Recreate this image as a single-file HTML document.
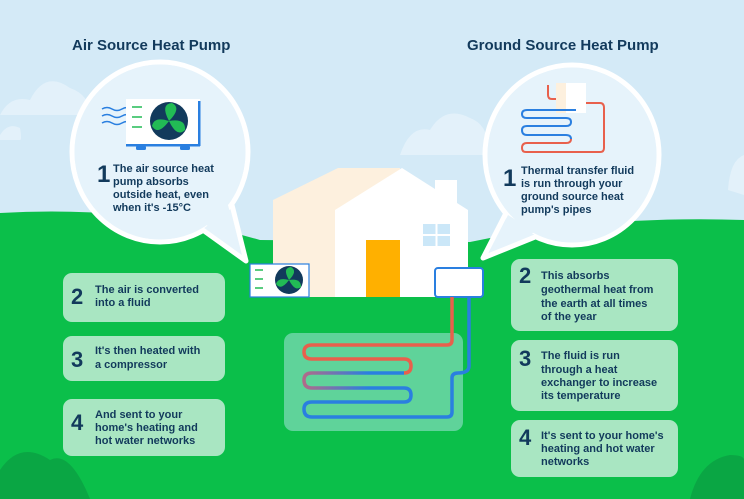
<!DOCTYPE html>
<html><head><meta charset="utf-8"><style>
html,body{margin:0;padding:0;width:744px;height:499px;overflow:hidden;background:#d4eaf7}
svg{display:block}
text{font-family:"Liberation Sans",sans-serif;font-weight:bold;fill:#123a5c}
</style></head><body>
<svg width="744" height="499" viewBox="0 0 744 499" xmlns="http://www.w3.org/2000/svg">
<rect width="744" height="499" fill="#d4eaf7"/>
<g fill="#e3f1fa">
<path d="M0 115 Q10 95 30 100 Q45 70 70 88 Q90 95 90 115 Z"/>
<path d="M0 135 Q8 122 20 128 Q22 140 20 140 L0 140Z"/>
<path d="M400 155 Q410 125 430 130 Q445 105 470 118 Q490 125 488 155 Z"/>
<path d="M728 190 Q730 160 744 155 L744 195 Z"/>
</g>
<path d="M0 213 Q140 205 260 240 L470 242 Q600 215 744 220 L744 499 L0 499Z" fill="#0bbf4a"/>
<path d="M0 470 Q20 440 50 460 Q70 450 90 499 L0 499Z" fill="#0aa644"/>
<path d="M690 499 Q700 460 730 455 Q744 455 744 460 L744 499Z" fill="#0aa644"/>
<text x="72" y="50" font-size="15">Air Source Heat Pump</text>
<text x="467" y="50" font-size="15">Ground Source Heat Pump</text>
<!-- left bubble -->
<g stroke="#fff" stroke-width="5" fill="#e6f3fb" stroke-linejoin="round">
<ellipse cx="160" cy="152" rx="88" ry="90"/>
<polygon points="200,228 246,261 232,205"/>
</g>
<ellipse cx="160" cy="152" rx="85.5" ry="87.5" fill="#e6f3fb"/>
<polygon points="203,222 240,252 228,205" fill="#e6f3fb"/>
<!-- right bubble -->
<g stroke="#fff" stroke-width="5" fill="#e6f3fb" stroke-linejoin="round">
<ellipse cx="572" cy="155" rx="87" ry="90"/>
<polygon points="505,215 483,258 540,235"/>
</g>
<ellipse cx="572" cy="155" rx="84.5" ry="87.5" fill="#e6f3fb"/>
<polygon points="508,215 490,250 535,232" fill="#e6f3fb"/>
<!-- AC unit in bubble -->
<g stroke="#2a7fe0" stroke-width="1.5" fill="none">
<path d="M102 109 q5 -3 10 0 t10 0 t10 0"/><path d="M102 116 q5 -3 10 0 t10 0 t10 0"/><path d="M102 123 q5 -3 10 0 t10 0 t10 0"/>
</g>
<rect x="126" y="99" width="74" height="46" fill="#fff"/>
<rect x="198" y="101" width="2.5" height="45" fill="#2a7fe0"/>
<rect x="126" y="144" width="74" height="2.5" fill="#2a7fe0"/>
<rect x="136" y="146" width="10" height="4" rx="1.5" fill="#2a7fe0"/><rect x="180" y="146" width="10" height="4" rx="1.5" fill="#2a7fe0"/>
<g stroke="#22bb55" stroke-width="1.5"><line x1="132" y1="107" x2="142" y2="107"/><line x1="132" y1="117" x2="142" y2="117"/><line x1="132" y1="127" x2="142" y2="127"/></g>
<circle cx="169" cy="121" r="19" fill="#123a5c"/>
<g fill="#22bb55"><path d="M169 121 Q160 104 172 103 Q182 108 169 121Z"/><path d="M169 121 Q186 118 185 130 Q177 138 169 121Z"/><path d="M169 121 Q158 136 152 126 Q154 116 169 121Z"/></g>
<text x="97" y="182" font-size="24">1</text>
<text font-size="11"><tspan x="113" y="172">The air source heat</tspan><tspan x="113" y="185">pump absorbs</tspan><tspan x="113" y="198">outside heat, even</tspan><tspan x="113" y="211">when it's -15°C</tspan></text>
<!-- right bubble icon -->
<rect x="556" y="83" width="30" height="30" fill="#fff"/><rect x="556" y="83" width="10" height="30" fill="#fdf0de"/>
<path d="M548 85 L548 95 Q548 99 552 99 L556 99" stroke="#e8604c" stroke-width="2" fill="none"/>
<path d="M586 103 L600 103 Q604 103 604 108 L604 148 Q604 152 600 152 L526 152 Q522 152 522 148 Q522 143 527 143 L566 143 Q571 143 571 139" stroke="#e8604c" stroke-width="2" fill="none"/>
<path d="M571 139 Q571 135 566 135 L527 135 Q522 135 522 130 Q522 126 527 126 L566 126 Q571 126 571 122 Q571 118 566 118 L527 118 Q522 118 522 114 Q522 110 527 110 L576 110" stroke="#2a7fe0" stroke-width="2" fill="none"/>
<text x="503" y="186" font-size="24">1</text>
<text font-size="11"><tspan x="521" y="174">Thermal transfer fluid</tspan><tspan x="521" y="187">is run through your</tspan><tspan x="521" y="200">ground source heat</tspan><tspan x="521" y="213">pump's pipes</tspan></text>
<!-- house -->
<path d="M273 200 L338 168 L400 168 L400 297 L273 297Z" fill="#fdf0de"/>
<path d="M335 210 L402 168 L468 210 L468 297 L335 297Z" fill="#fff"/>
<rect x="435" y="180" width="22" height="30" fill="#fff"/>
<rect x="366" y="240" width="34" height="57" fill="#ffb000"/>
<g fill="#cbe7f8"><rect x="423" y="224" width="12.5" height="10"/><rect x="437.5" y="224" width="12.5" height="10"/><rect x="423" y="236" width="12.5" height="10"/><rect x="437.5" y="236" width="12.5" height="10"/></g>
<rect x="250" y="264" width="59" height="33" fill="#fff" stroke="#2a7fe0" stroke-width="1.2"/>
<g stroke="#22bb55" stroke-width="1.5"><line x1="255" y1="270" x2="263" y2="270"/><line x1="255" y1="279" x2="263" y2="279"/><line x1="255" y1="288" x2="263" y2="288"/></g>
<circle cx="289" cy="280" r="14" fill="#123a5c"/>
<g fill="#22bb55"><path d="M289 280 Q282 268 291 267 Q298 271 289 280Z"/><path d="M289 280 Q301 278 301 287 Q295 292 289 280Z"/><path d="M289 280 Q281 291 276 284 Q278 277 289 280Z"/></g>
<rect x="435" y="268" width="48" height="29" rx="3" fill="#fff" stroke="#2a7fe0" stroke-width="2"/>
<rect x="284" y="333" width="179" height="98" rx="9" fill="#5fd39a"/>
<defs><linearGradient id="pg" x1="0" x2="1"><stop offset="0" stop-color="#b06a8a"/><stop offset="0.6" stop-color="#2a7fe0"/></linearGradient></defs>
<path d="M452 297 L452 340 Q452 345 447 345 L312 345 Q304 345 304 352 Q304 359 312 359 L404 359 Q411 359 411 366 Q411 373 404 373" stroke="#e8604c" stroke-width="3.5" fill="none"/>
<path d="M404 373 L312 373 Q304 373 304 380 Q304 388 312 388 L404 388 Q411 388 411 395 Q411 402 404 402" stroke="url(#pg)" stroke-width="3.5" fill="none"/>
<path d="M404 402 L312 402 Q304 402 304 409 Q304 417 312 417 L447 417 Q452 417 452 412 L452 378 Q452 373 458 373 Q469 373 469 366 L469 297" stroke="#2a7fe0" stroke-width="3.5" fill="none"/>
<g fill="#a9e6c2"><rect x="63" y="273" width="162" height="49" rx="9"/><rect x="63" y="336" width="162" height="45" rx="9"/><rect x="63" y="399" width="162" height="57" rx="9"/>
<rect x="511" y="259" width="167" height="72" rx="9"/><rect x="511" y="340" width="167" height="71" rx="9"/><rect x="511" y="420" width="167" height="57" rx="9"/></g>
<text font-size="22"><tspan x="71" y="304">2</tspan><tspan x="71" y="367">3</tspan><tspan x="71" y="430">4</tspan><tspan x="519" y="283">2</tspan><tspan x="519" y="366">3</tspan><tspan x="519" y="445">4</tspan></text>
<text font-size="11">
<tspan x="95" y="293">The air is converted</tspan><tspan x="95" y="306">into a fluid</tspan>
<tspan x="95" y="354">It's then heated with</tspan><tspan x="95" y="368">a compressor</tspan>
<tspan x="95" y="418">And sent to your</tspan><tspan x="95" y="431">home's heating and</tspan><tspan x="95" y="444">hot water networks</tspan>
<tspan x="541" y="279">This absorbs</tspan><tspan x="541" y="293">geothermal heat from</tspan><tspan x="541" y="307">the earth at all times</tspan><tspan x="541" y="320">of the year</tspan>
<tspan x="541" y="359">The fluid is run</tspan><tspan x="541" y="373">through a heat</tspan><tspan x="541" y="386">exchanger to increase</tspan><tspan x="541" y="399">its temperature</tspan>
<tspan x="541" y="439">It's sent to your home's</tspan><tspan x="541" y="452">heating and hot water</tspan><tspan x="541" y="465">networks</tspan>
</text>
</svg>
</body></html>
